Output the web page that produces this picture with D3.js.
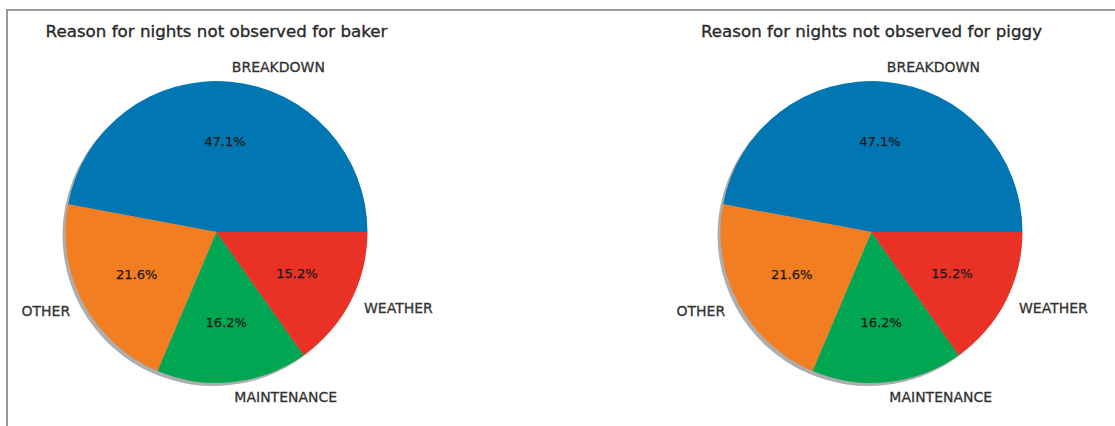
<!DOCTYPE html>
<html>
<head>
<meta charset="utf-8">
<style>
  body { margin: 0; background: #fff; }
  text { font-family: "DejaVu Sans", sans-serif; }
</style>
</head>
<body>
<script src="https://cdnjs.cloudflare.com/ajax/libs/d3/7.8.5/d3.min.js"></script>
<svg id="svg-canvas" width="1115" height="426"></svg>
<script>

  // counts of nights not observed, per reason
  const reasons = ['BREAKDOWN', 'OTHER', 'MAINTENANCE', 'WEATHER'];
  const bakerNights = [96, 44, 33, 31];
  const piggyNights = [96, 44, 33, 31];
  const telescopes = ['baker', 'piggy'];
  const colours = ['#0077b3', '#f37e21', '#00a651', '#ea3125'];

  const width = 1115;
  const height = 426;
  const radius = 151;
  const centres = [216.5, 871.5];
  const cy = 232;

  const svg = d3.select('svg');

  // frame lines at top and left
  svg.append('line')
    .attr('x1', 7).attr('x2', width).attr('y1', 10).attr('y2', 10)
    .attr('stroke', '#999').attr('stroke-width', 2);
  svg.append('line')
    .attr('x1', 7).attr('x2', 7).attr('y1', 9).attr('y2', height)
    .attr('stroke', '#999').attr('stroke-width', 2);

  const colour = d3.scaleOrdinal().domain(reasons).range(colours);

  // matplotlib style: start at 3 o'clock, go counter-clockwise
  const pie = d3.pie()
    .sort(null)
    .startAngle(Math.PI / 2)
    .endAngle(Math.PI / 2 - 2 * Math.PI);

  const arc = d3.arc().innerRadius(0).outerRadius(radius);

  const series = [bakerNights, piggyNights];

  series.forEach((values, i) => {
    const total = d3.sum(values);
    const arcs = pie(values);

    const g = svg.append('g')
      .attr('transform', `translate(${centres[i]},${cy})`);

    // title
    svg.append('text')
      .attr('x', centres[i])
      .attr('y', 31)
      .text(`Reason for nights not observed for ${telescopes[i]}`)
      .attr('text-anchor', 'middle')
      .attr('dominant-baseline', 'central')
      .attr('font-size', 16.7)
      .attr('fill', '#2a2a2a')
      .attr('stroke', '#2a2a2a')
      .attr('stroke-width', 0.35);

    // shadow
    g.append('g')
      .attr('transform', 'translate(-3,3)')
      .selectAll('path')
      .data(arcs)
      .enter()
      .append('path')
      .attr('d', arc)
      .attr('fill', '#777')
      .attr('opacity', 0.6);

    g.append('g')
      .selectAll('path')
      .data(arcs)
      .enter()
      .append('path')
      .attr('d', arc)
      .attr('fill', (d, j) => colour(reasons[j]));

    const mid = d => (d.startAngle + d.endAngle) / 2;

    // reason labels at 1.1 r
    g.append('g')
      .selectAll('text')
      .data(arcs)
      .enter()
      .append('text')
      .attr('x', d => 1.1 * radius * Math.sin(mid(d)))
      .attr('y', d => -1.1 * radius * Math.cos(mid(d)))
      .attr('text-anchor', d => Math.sin(mid(d)) > 0 ? 'start' : 'end')
      .attr('dominant-baseline', 'central')
      .attr('font-size', 14)
      .attr('fill', '#333')
      .attr('stroke', '#333')
      .attr('stroke-width', 0.3)
      .text((d, j) => reasons[j]);

    // percentages at 0.6 r
    g.append('g')
      .selectAll('text')
      .data(arcs)
      .enter()
      .append('text')
      .attr('x', d => 0.6 * radius * Math.sin(mid(d)))
      .attr('y', d => -0.6 * radius * Math.cos(mid(d)))
      .attr('text-anchor', 'middle')
      .attr('dominant-baseline', 'central')
      .attr('font-size', 13)
      .attr('fill', '#1a1a1a')
      .attr('stroke', '#1a1a1a')
      .attr('stroke-width', 0.25)
      .text(d => (100 * d.value / total).toFixed(1) + '%');
  });

  </script>
</body>
</html>
